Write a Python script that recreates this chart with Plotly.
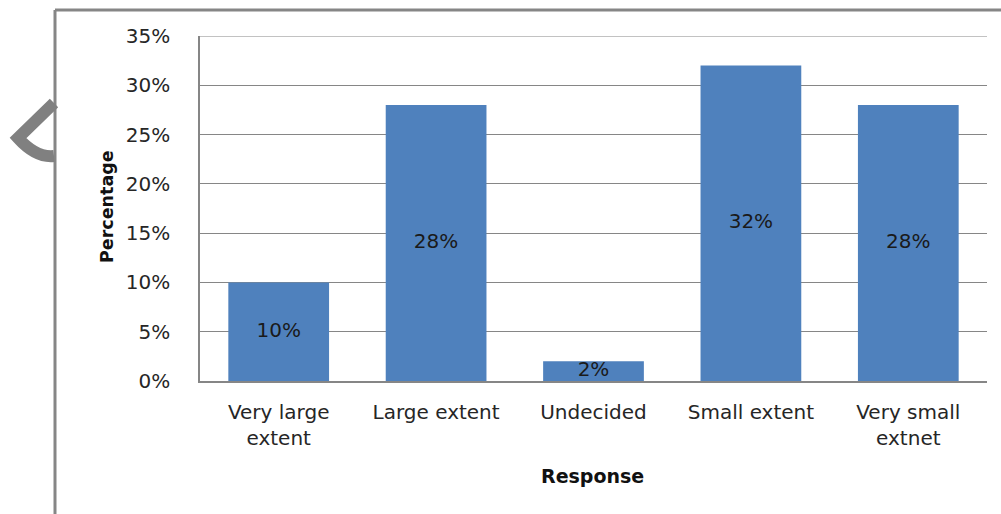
import plotly.graph_objects as go

categories = ["Very large<br>extent", "Large extent", "Undecided", "Small extent", "Very small<br>extnet"]
values = [10, 28, 2, 32, 28]
labels = ["10%", "28%", "2%", "32%", "28%"]
y_ticks = [0, 5, 10, 15, 20, 25, 30, 35]
y_ticktext = ["0%", "5%", "10%", "15%", "20%", "25%", "30%", "35%"]
y_max = 35

W, H = 1001, 514
L, R, T, B = 200, 987, 36, 381  # plot area in pixels


def px(x):
    return (x - L) / (R - L)


def py(y):
    return (B - y) / (B - T)


FONT = "DejaVu Sans"
GRAY = "#868686"

fig = go.Figure()
fig.add_trace(go.Bar(
    x=categories, y=values, marker_color="#4F81BD", marker_line_width=0,
    width=0.64, hoverinfo="skip", showlegend=False,
))
fig.add_trace(go.Scatter(
    x=categories, y=[v / 2 for v in values], mode="text", text=labels,
    textfont=dict(family=FONT, size=20, color="#1a1a1a"),
    textposition="middle center", hoverinfo="skip", showlegend=False,
))

shapes = [
    # top gridline at the range maximum
    dict(type="line", xref="paper", yref="y", x0=0, x1=1, y0=y_max, y1=y_max,
         line=dict(color=GRAY, width=1), layer="below"),
    # outer chart border (left and top)
    dict(type="line", xref="paper", yref="paper", x0=px(55), x1=px(55), y0=py(10), y1=py(520),
         line=dict(color=GRAY, width=3)),
    dict(type="line", xref="paper", yref="paper", x0=px(55), x1=px(1005), y0=py(10), y1=py(10),
         line=dict(color=GRAY, width=3)),
    # partial watermark glyph outside border
    dict(type="path", xref="paper", yref="paper",
         path=f"M {px(54)},{py(103)} L {px(18)},{py(138)} Q {px(36)},{py(158)} {px(54)},{py(156)}",
         line=dict(color="#808080", width=12)),
]

fig.update_layout(
    width=W, height=H,
    margin=dict(l=L, r=W - R, t=T, b=H - B),
    paper_bgcolor="white", plot_bgcolor="white",
    bargap=0.36,
    shapes=shapes,
    font=dict(family=FONT, size=20, color="#262626"),
    xaxis=dict(
        showline=True, linecolor=GRAY, linewidth=1.5, ticks="", showgrid=False,
        tickfont=dict(family=FONT, size=20, color="#262626"),
        ticklabelstandoff=12,
    ),
    yaxis=dict(
        range=[0, y_max], tickvals=y_ticks, ticktext=y_ticktext,
        showline=True, linecolor=GRAY, linewidth=1.5, ticks="",
        showgrid=True, gridcolor=GRAY, gridwidth=1,
        tickfont=dict(family=FONT, size=20, color="#262626"),
        ticklabelstandoff=24, zeroline=False,
    ),
    annotations=[
        dict(text="<b>Percentage</b>", xref="paper", yref="paper", x=px(107), y=py(207),
             xanchor="center", yanchor="middle", textangle=-90, showarrow=False,
             font=dict(family=FONT, size=17.5, color="#111")),
        dict(text="<b>Response</b>", xref="paper", yref="paper", x=px(592), y=py(476),
             xanchor="center", yanchor="middle", showarrow=False,
             font=dict(family=FONT, size=19, color="#111")),
    ],
)

fig.write_html("out.html")
